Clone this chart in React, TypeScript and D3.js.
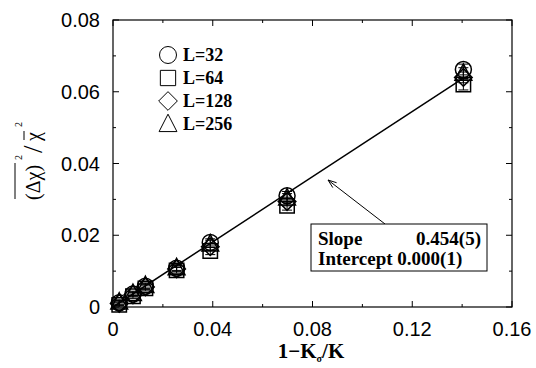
import { useEffect, useRef } from "react"
import * as d3 from "d3"

// 1 - K_sigma / K
const xValues = [0.0025, 0.008, 0.013, 0.0255, 0.039, 0.0698, 0.1405]

// normalized fluctuation, one array per lattice size
const valuesL32 = [0.0012, 0.0036, 0.0058, 0.0108, 0.018, 0.031, 0.0662]
const valuesL64 = [0.0006, 0.003, 0.0052, 0.0102, 0.0156, 0.0282, 0.062]
const valuesL128 = [0.001, 0.0034, 0.0056, 0.0106, 0.0168, 0.0294, 0.064]
const valuesL256 = [0.0014, 0.0038, 0.006, 0.011, 0.0176, 0.0304, 0.0652]

// error bars (same for all sizes)
const errValues = [0.0006, 0.0006, 0.0007, 0.0008, 0.001, 0.0012, 0.0015]

const seriesLabels = ["L=32", "L=64", "L=128", "L=256"]
const seriesShapes = ["circle", "square", "diamond", "triangle"]

const xTicks = [0, 0.04, 0.08, 0.12, 0.16]
const yTicks = [0, 0.02, 0.04, 0.06, 0.08]
const xMinorTicks = [0.02, 0.06, 0.1, 0.14]
const yMinorTicks = [0.01, 0.03, 0.05, 0.07]

const slope = 0.454
const intercept = 0.0
const fitLabels = ["Slope", "0.454(5)", "Intercept 0.000(1)"]

const markerPath = (shape: string, s: number) => {
  if (shape === "circle") {
    return `M${-s},0A${s},${s} 0 1,0 ${s},0A${s},${s} 0 1,0 ${-s},0Z`
  }
  if (shape === "square") {
    const h = s * 0.9
    return `M${-h},${-h}H${h}V${h}H${-h}Z`
  }
  if (shape === "diamond") {
    const h = s * 1.1
    return `M0,${-h}L${h},0L0,${h}L${-h},0Z`
  }
  const h = s * 1.05
  return `M0,${-h * 1.1}L${h},${h * 0.85}L${-h},${h * 0.85}Z`
}

export default function App() {
  const svgRef = useRef<SVGSVGElement | null>(null)

  useEffect(() => {
    if (!svgRef.current) return
    const svg = d3.select(svgRef.current)
    svg.selectAll("*").remove()

    const left = 113
    const right = 512
    const top = 20
    const bottom = 307

    const x = d3.scaleLinear().domain([0, 0.16]).range([left, right])
    const y = d3.scaleLinear().domain([0, 0.08]).range([bottom, top])

    const sans = "'Liberation Sans', Arial, sans-serif"
    const serif = "'Liberation Serif', 'Times New Roman', serif"

    // frame
    svg
      .append("rect")
      .attr("x", left)
      .attr("y", top)
      .attr("width", right - left)
      .attr("height", bottom - top)
      .attr("fill", "none")
      .attr("stroke", "#000")
      .attr("stroke-width", 1.2)

    const ticks = svg.append("g").attr("stroke", "#000").attr("stroke-width", 1)
    const tickLen = (minor: boolean) => (minor ? 3 : 6)

    ;[...xTicks.map((v) => [v, false]), ...xMinorTicks.map((v) => [v, true])].forEach(([v, minor]) => {
      const px = x(v as number)
      const len = tickLen(minor as boolean)
      ticks.append("line").attr("x1", px).attr("x2", px).attr("y1", bottom).attr("y2", bottom - len)
      ticks.append("line").attr("x1", px).attr("x2", px).attr("y1", top).attr("y2", top + len)
    })
    ;[...yTicks.map((v) => [v, false]), ...yMinorTicks.map((v) => [v, true])].forEach(([v, minor]) => {
      const py = y(v as number)
      const len = tickLen(minor as boolean)
      ticks.append("line").attr("x1", left).attr("x2", left + len).attr("y1", py).attr("y2", py)
      ticks.append("line").attr("x1", right).attr("x2", right - len).attr("y1", py).attr("y2", py)
    })

    // tick labels
    svg
      .append("g")
      .selectAll("text")
      .data(xTicks)
      .enter()
      .append("text")
      .attr("x", (d) => x(d))
      .attr("y", bottom + 29)
      .attr("text-anchor", "middle")
      .attr("font-family", sans)
      .attr("font-size", 20)
      .text((d) => (d === 0 ? "0" : d3.format(".2f")(d)))

    svg
      .append("g")
      .selectAll("text")
      .data(yTicks)
      .enter()
      .append("text")
      .attr("x", left - 13)
      .attr("y", (d) => y(d) + 7)
      .attr("text-anchor", "end")
      .attr("font-family", sans)
      .attr("font-size", 20)
      .text((d) => (d === 0 ? "0" : d3.format(".2f")(d)))

    // x title: 1−Kσ/K
    const xt = svg
      .append("text")
      .attr("x", 311)
      .attr("y", 358)
      .attr("text-anchor", "middle")
      .attr("font-family", serif)
      .attr("font-weight", "bold")
      .attr("font-size", 21)
    xt.append("tspan").text("1\u2212K")
    xt.append("tspan").attr("font-size", 10).attr("dy", 4).text("\u03c3")
    xt.append("tspan").attr("dy", -4).text("/K")

    // y title, rotated
    const yt = svg.append("g").attr("transform", "translate(40,200) rotate(-90)")
    yt.append("text").attr("x", 0).attr("y", 0).attr("font-family", serif).attr("font-size", 20).text("(\u0394\u03c7)")
    yt.append("line").attr("x1", 1).attr("x2", 37).attr("y1", -25).attr("y2", -25).attr("stroke", "#000").attr("stroke-width", 1)
    yt.append("text").attr("x", 40).attr("y", -18).attr("font-family", serif).attr("font-size", 10).text("2")
    yt.append("text").attr("x", 47).attr("y", 2).attr("font-family", serif).attr("font-size", 27).text("/")
    yt.append("text").attr("x", 59).attr("y", 0).attr("font-family", serif).attr("font-size", 20).text("\u03c7")
    yt.append("line").attr("x1", 60).attr("x2", 69).attr("y1", -16).attr("y2", -16).attr("stroke", "#000").attr("stroke-width", 1)
    yt.append("text").attr("x", 73).attr("y", -18).attr("font-family", serif).attr("font-size", 10).text("2")

    // fit line
    svg
      .append("path")
      .attr(
        "d",
        d3
          .line<number>()
          .x((d) => x(d))
          .y((d) => y(slope * d + intercept))([0, xValues[xValues.length - 1]])
      )
      .attr("stroke", "#000")
      .attr("stroke-width", 1.5)
      .attr("fill", "none")

    // data markers with error bars
    const allSeries = [valuesL32, valuesL64, valuesL128, valuesL256]
    allSeries.forEach((vals, i) => {
      const g = svg.append("g").attr("stroke", "#000").attr("fill", "none")
      vals.forEach((v, j) => {
        const px = x(xValues[j])
        const hi = y(v + errValues[j])
        const lo = y(v - errValues[j])
        g.append("line").attr("x1", px).attr("x2", px).attr("y1", hi).attr("y2", lo).attr("stroke-width", 1)
        g.append("line").attr("x1", px - 5).attr("x2", px + 5).attr("y1", hi).attr("y2", hi).attr("stroke-width", 1)
        g.append("line").attr("x1", px - 5).attr("x2", px + 5).attr("y1", lo).attr("y2", lo).attr("stroke-width", 1)
      })
      g.selectAll("path")
        .data(vals)
        .enter()
        .append("path")
        .attr("transform", (d, j) => `translate(${x(xValues[j])},${y(d)})`)
        .attr("d", markerPath(seriesShapes[i], 8))
        .attr("stroke-width", 1.5)
    })

    // legend
    const legend = svg.append("g")
    seriesLabels.forEach((label, i) => {
      const ly = 55 + i * 23
      legend
        .append("path")
        .attr("transform", `translate(168,${ly})`)
        .attr("d", markerPath(seriesShapes[i], 8.5))
        .attr("fill", "none")
        .attr("stroke", "#000")
        .attr("stroke-width", 1)
      legend
        .append("text")
        .attr("x", 183)
        .attr("y", ly + 6)
        .attr("font-family", serif)
        .attr("font-weight", "bold")
        .attr("font-size", 18)
        .text(label)
    })

    // arrow to fit line
    const ax1 = 385
    const ay1 = 224
    const ax2 = 328
    const ay2 = 180
    svg.append("line").attr("x1", ax1).attr("y1", ay1).attr("x2", ax2).attr("y2", ay2).attr("stroke", "#000").attr("stroke-width", 1)
    const ang = Math.atan2(ay1 - ay2, ax1 - ax2)
    const head = 9
    const spread = 0.35
    svg
      .append("path")
      .attr(
        "d",
        `M${ax2 + head * Math.cos(ang + spread)},${ay2 + head * Math.sin(ang + spread)}L${ax2},${ay2}L${
          ax2 + head * Math.cos(ang - spread)
        },${ay2 + head * Math.sin(ang - spread)}`
      )
      .attr("stroke", "#000")
      .attr("stroke-width", 1)
      .attr("fill", "none")

    // fit box
    svg
      .append("rect")
      .attr("x", 311)
      .attr("y", 224)
      .attr("width", 176)
      .attr("height", 47)
      .attr("fill", "#fff")
      .attr("stroke", "#000")
      .attr("stroke-width", 1)
    const boxText = (tx: number, ty: number, s: string, anchor: string) =>
      svg
        .append("text")
        .attr("x", tx)
        .attr("y", ty)
        .attr("text-anchor", anchor)
        .attr("font-family", serif)
        .attr("font-weight", "bold")
        .attr("font-size", 19)
        .text(s)
    boxText(318, 245, fitLabels[0], "start")
    boxText(481, 245, fitLabels[1], "end")
    boxText(318, 265, fitLabels[2], "start")
  }, [])

  return (
    <svg
      ref={svgRef}
      width={536}
      height={368}
      style={{ position: "absolute", left: 0, top: 0, background: "#fff" }}
    ></svg>
  )
}
